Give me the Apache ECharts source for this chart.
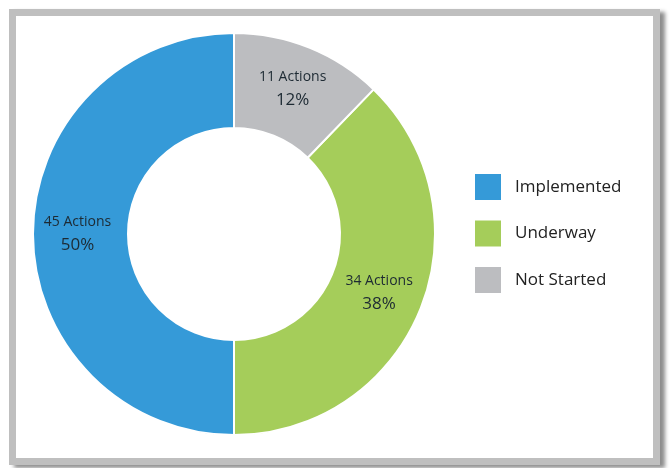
<!DOCTYPE html>
<html>
<head>
<meta charset="utf-8">
<script src="https://cdn.jsdelivr.net/npm/echarts@6/dist/echarts.min.js"></script>
<style>
  html, body { margin: 0; padding: 0; background: #fff; }
  .frame {
    position: absolute;
    left: 9px; top: 9px;
    width: 637px; height: 442px;
    border: 7px solid #bfbfbf;
    box-shadow: 5px 3px 4px rgba(0, 0, 0, 0.45);
    background: #fff;
  }
  #chart { position: absolute; left: 0; top: 0; width: 670px; height: 468px; }
</style>
</head>
<body>
<div class="frame"></div>
<div id="chart"></div>
<script>
// 各状态的行动数
var categories = ["Implemented", "Underway", "Not Started"];
var actions = [45, 34, 11];
var percents = ["50%", "38%", "12%"];
var colors = ["#359ad8", "#a5cd5a", "#bcbdc0"];

var myChart = echarts.init(document.getElementById("chart"));

var pieData = categories.map(function (name, i) {
  return {
    name: name,
    value: actions[i],
    itemStyle: { color: colors[i] },
    label: { formatter: "{a|" + actions[i] + " Actions}\n{b|" + percents[i] + "}" },
  };
});

var option = {
  animation: false,
  legend: {
    orient: "vertical",
    left: 473,
    top: 172,
    padding: 0,
    itemWidth: 28,
    itemHeight: 28,
    itemGap: 16.5,
    icon: "rect",
    data: categories,
    textStyle: {
      fontFamily: "Open Sans",
      fontSize: 17,
      color: "#222",
      lineHeight: 28,
      padding: [0, 0, 0, 8],
    },
  },
  series: [
    {
      type: "pie",
      center: [234, 234],
      radius: [106, 201],
      startAngle: 90,
      clockwise: false,
      itemStyle: { borderColor: "#fff", borderWidth: 2 },
      label: {
        position: "inside",
        lineHeight: 23,
        rich: {
          a: { fontFamily: "Open Sans", fontSize: 14, color: "#1d2a33", lineHeight: 23, letterSpacing: -0.4 },
          b: { fontFamily: "Open Sans", fontSize: 17, color: "#1d2a33", lineHeight: 23 },
        },
      },
      labelLine: { show: false },
      emphasis: { disabled: true },
      data: pieData,
    },
  ],
};

myChart.setOption(option);
</script>
</body>
</html>
